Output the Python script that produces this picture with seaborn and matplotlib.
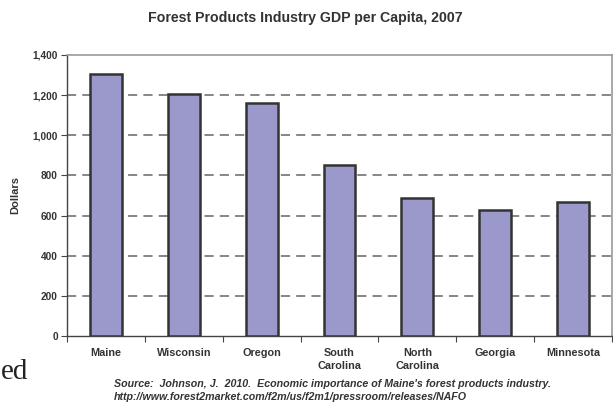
import matplotlib
matplotlib.use("Agg")
import matplotlib.pyplot as plt
import seaborn as sns
import pandas as pd
import numpy as np

states = ["Maine", "Wisconsin", "Oregon", "South\nCarolina", "North\nCarolina", "Georgia", "Minnesota"]
dollars = [1305, 1206, 1161, 850, 688, 630, 668]
yticks = [0, 200, 400, 600, 800, 1000, 1200, 1400]
ytick_labels = ["0", "200", "400", "600", "800", "1,000", "1,200", "1,400"]

sns.set_style("white")
plt.rcParams['font.family'] = ['Liberation Sans', 'DejaVu Sans']

df = pd.DataFrame({"State": states, "Dollars": dollars})

fig = plt.figure(figsize=(6.13, 4.04), dpi=100)
ax = fig.add_axes([67/613, 1-336/404, 545/613, (336-55)/404])

sns.barplot(data=df, x="State", y="Dollars", color="#9b99cc", saturation=1,
            width=0.41, edgecolor="#333333", linewidth=1.8, ax=ax, zorder=3)

ax.set_ylim(0, 1400)
ax.set_xlim(-0.5, len(states) - 0.5)
ax.set_yticks(yticks)
ax.set_yticklabels(ytick_labels, fontsize=7.3, fontweight="bold", color="#333333")
ax.set_xticks(range(len(states)))
ax.set_xticklabels(states, fontsize=7.8, fontweight="bold", color="#333333", linespacing=1.35)
ax.tick_params(axis="x", length=0, pad=9)
ax.tick_params(axis="y", length=4, width=0.8, color="#444444", direction="out", left=True, pad=2.5)
# category boundary ticks on x axis
ax.set_xticks(np.arange(-0.5, len(states)), minor=True)
ax.tick_params(axis="x", which="minor", length=4, width=0.8, color="#444444", direction="out", bottom=True)

for v in yticks[1:-1]:
    ax.axhline(v, color="#666666", lw=1.1, ls=(0, (6, 4)), zorder=1)

for s in ["left", "bottom"]:
    ax.spines[s].set_color("#444444")
    ax.spines[s].set_linewidth(1.0)
for s in ["top", "right"]:
    ax.spines[s].set_color("#999999")
    ax.spines[s].set_linewidth(1.2)

ax.set_xlabel("")
ax.set_ylabel("Dollars", fontsize=8, fontweight="bold", color="#333333")
ax.yaxis.set_label_coords((20-67)/545, 0.5)

fig.text(305/613, 1-18/404, "Forest Products Industry GDP per Capita, 2007",
         ha="center", va="center", fontsize=10.2, fontweight="bold", color="#333333")
fig.text(114/613, 1-384/404,
         "Source:  Johnson, J.  2010.  Economic importance of Maine's forest products industry.",
         ha="left", va="center", fontsize=7.7, fontweight="bold", style="italic", color="#333333")
fig.text(114/613, 1-397/404,
         "http://www.forest2market.com/f2m/us/f2m1/pressroom/releases/NAFO",
         ha="left", va="center", fontsize=7.7, fontweight="bold", style="italic", color="#333333")
fig.text(0.5/613, 1-372/404, "ed", ha="left", va="center", fontsize=21,
         family=["Liberation Serif", "DejaVu Serif"], color="#222222")

fig.savefig("out.png", dpi=100)
